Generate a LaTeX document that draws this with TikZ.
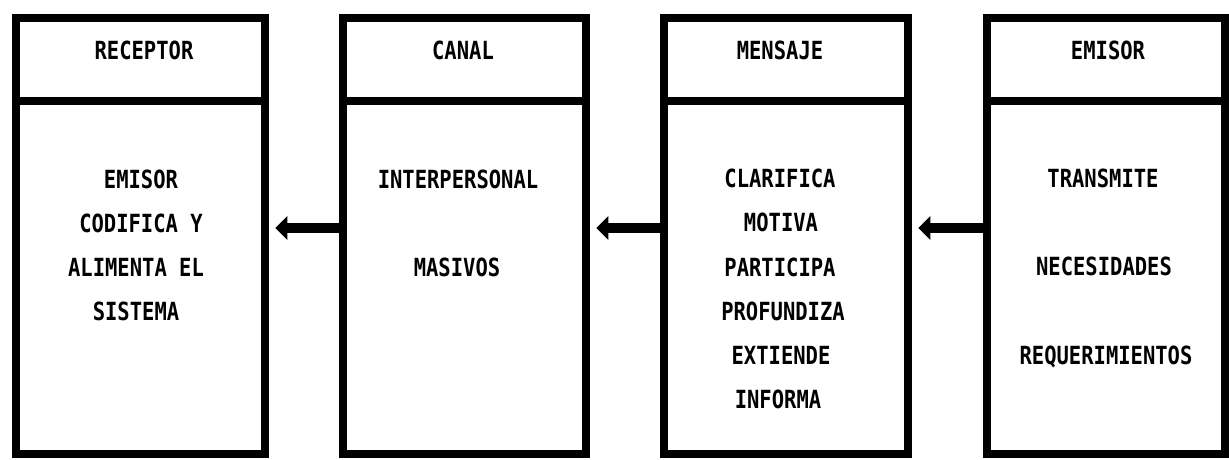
\documentclass[tikz,border=0pt]{standalone}
\usepackage{fontspec}
\newfontfamily\monofam{DejaVu Sans Mono}
\usetikzlibrary{arrows.meta}
\newcommand{\tallt}[1]{\scalebox{1}[1.22]{#1}}
\tikzset{
  box/.style={draw=black, line width=8.5pt, line join=miter, rectangle, inner sep=0pt},
  sepline/.style={draw=black, line width=8.5pt},
  arr/.style={draw=black, line width=10pt, -{Triangle[length=12pt,width=23pt]}},
  txt/.style={font=\monofam\bfseries\fontsize{20.5pt}{24pt}\selectfont, inner sep=0pt, text height=18.3pt, text depth=0pt}
}
\begin{document}
\begin{tikzpicture}[x=1pt,y=-1pt]
\useasboundingbox[fill=white] (0,0) rectangle (1229,459);
% boxes
\node[box, minimum width=249pt, minimum height=436pt] (b1) at (140.5,236) {};
\node[box, minimum width=243pt, minimum height=436pt] (b2) at (464.5,236) {};
\node[box, minimum width=244pt, minimum height=436pt] (b3) at (786,236) {};
\node[box, minimum width=238pt, minimum height=436pt] (b4) at (1106,236) {};
% header separators
\draw[sepline] (b1.west |- 0,101) -- (b1.east |- 0,101);
\draw[sepline] (b2.west |- 0,101) -- (b2.east |- 0,101);
\draw[sepline] (b3.west |- 0,101) -- (b3.east |- 0,101);
\draw[sepline] (b4.west |- 0,101) -- (b4.east |- 0,101);
% arrows
\coordinate (t1) at ([xshift=6pt]b1.east |- 0,228);
\coordinate (t2) at ([xshift=6pt]b2.east |- 0,228);
\coordinate (t3) at ([xshift=6pt]b3.east |- 0,228);
\draw[arr] (b2.west |- 0,228) -- (t1);
\draw[arr] (b3.west |- 0,228) -- (t2);
\draw[arr] (b4.west |- 0,228) -- (t3);
% headers
\node[txt] (h1) at (144,50) {\tallt{RECEPTOR}};
\node[txt] (h2) at (463,50) {\tallt{CANAL}};
\node[txt] (h3) at (780,50) {\tallt{MENSAJE}};
\node[txt] (h4) at (1108,50) {\tallt{EMISOR}};
% box 1 body
\node[txt] (r1) at (141,179) {\tallt{EMISOR}};
\node[txt] (r2) at (141,223) {\tallt{CODIFICA Y}};
\node[txt] (r3) at (136,267) {\tallt{ALIMENTA EL}};
\node[txt] (r4) at (136,311) {\tallt{SISTEMA}};
% box 2 body
\node[txt] (c1) at (458,179) {\tallt{INTERPERSONAL}};
\node[txt] (c2) at (457,267) {\tallt{MASIVOS}};
% box 3 body
\node[txt] (m1) at (780,178) {\tallt{CLARIFICA}};
\node[txt] (m2) at (781,222) {\tallt{MOTIVA}};
\node[txt] (m3) at (780,267) {\tallt{PARTICIPA}};
\node[txt] (m4) at (783,311) {\tallt{PROFUNDIZA}};
\node[txt] (m5) at (781,355) {\tallt{EXTIENDE}};
\node[txt] (m6) at (778,399) {\tallt{INFORMA}};
% box 4 body
\node[txt] (e1) at (1103,178) {\tallt{TRANSMITE}};
\node[txt] (e2) at (1104,266) {\tallt{NECESIDADES}};
\node[txt] (e3) at (1106,355) {\tallt{REQUERIMIENTOS}};
\end{tikzpicture}
\end{document}
